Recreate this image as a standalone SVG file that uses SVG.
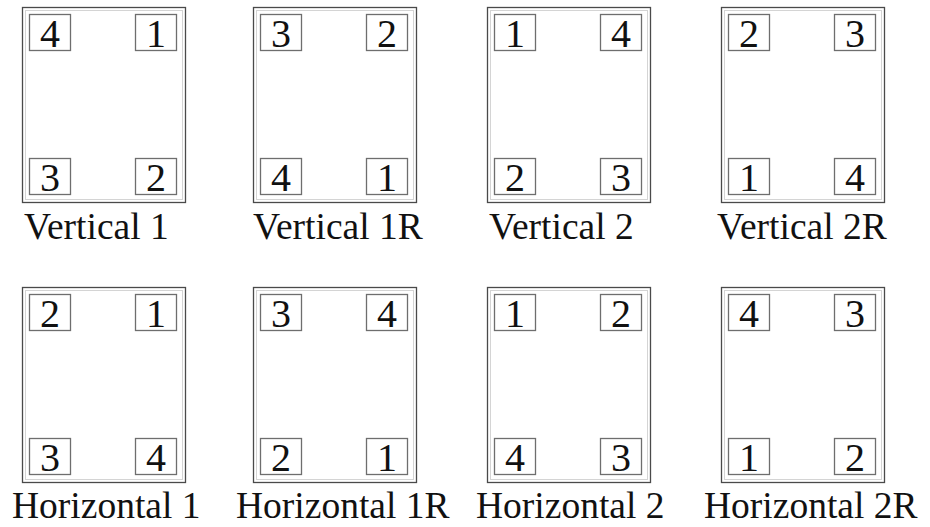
<svg xmlns="http://www.w3.org/2000/svg" xmlns:xlink="http://www.w3.org/1999/xlink" width="930" height="527" viewBox="0 0 930 527">
  <style>
    .outer { fill: #ffffff; stroke: #4a4a4a; stroke-width: 1.3; }
    .inner { fill: none; stroke: #d4d4d4; stroke-width: 1; }
    .pad { fill: #ffffff; stroke: #6e6e6e; stroke-width: 1.3; }
    .num { font-family: 'Liberation Serif', 'Times New Roman', serif; font-size: 40px; fill: #111; text-anchor: middle; }
    .label { font-family: 'Liberation Serif', 'Times New Roman', serif; font-size: 37.5px; fill: #111; }
  </style>
  <defs>
    <!-- panel frame with four corner pads, origin at outer top-left -->
    <g id="frame">
      <rect class="outer" x="0.5" y="0.5" width="163" height="195"/>
      <rect class="inner" x="3.5" y="3.5" width="157" height="189"/>
      <rect class="pad" x="7.5" y="7.5" width="41" height="36"/>
      <rect class="pad" x="113.5" y="7.5" width="41" height="36"/>
      <rect class="pad" x="7.5" y="151.5" width="41" height="36"/>
      <rect class="pad" x="113.5" y="151.5" width="41" height="36"/>
    </g>
  </defs>

  <!-- top row: vertical orientations -->
  <g id="vertical-1" transform="translate(22,7)">
    <use xlink:href="#frame" href="#frame"/>
    <text class="num" x="28" y="40">4</text>
    <text class="num" x="134" y="40">1</text>
    <text class="num" x="28" y="184">3</text>
    <text class="num" x="134" y="184">2</text>
    <text class="label" x="2" y="232">Vertical 1</text>
  </g>
  <g id="vertical-1r" transform="translate(253,7)">
    <use xlink:href="#frame" href="#frame"/>
    <text class="num" x="28" y="40">3</text>
    <text class="num" x="134" y="40">2</text>
    <text class="num" x="28" y="184">4</text>
    <text class="num" x="134" y="184">1</text>
    <text class="label" x="0" y="232">Vertical 1R</text>
  </g>
  <g id="vertical-2" transform="translate(487,7)">
    <use xlink:href="#frame" href="#frame"/>
    <text class="num" x="28" y="40">1</text>
    <text class="num" x="134" y="40">4</text>
    <text class="num" x="28" y="184">2</text>
    <text class="num" x="134" y="184">3</text>
    <text class="label" x="2" y="232">Vertical 2</text>
  </g>
  <g id="vertical-2r" transform="translate(721,7)">
    <use xlink:href="#frame" href="#frame"/>
    <text class="num" x="28" y="40">2</text>
    <text class="num" x="134" y="40">3</text>
    <text class="num" x="28" y="184">1</text>
    <text class="num" x="134" y="184">4</text>
    <text class="label" x="-4" y="232">Vertical 2R</text>
  </g>

  <!-- bottom row: horizontal orientations -->
  <g id="horizontal-1" transform="translate(22,287)">
    <use xlink:href="#frame" href="#frame"/>
    <text class="num" x="28" y="40">2</text>
    <text class="num" x="134" y="40">1</text>
    <text class="num" x="28" y="184">3</text>
    <text class="num" x="134" y="184">4</text>
    <text class="label" x="-10" y="231">Horizontal 1</text>
  </g>
  <g id="horizontal-1r" transform="translate(253,287)">
    <use xlink:href="#frame" href="#frame"/>
    <text class="num" x="28" y="40">3</text>
    <text class="num" x="134" y="40">4</text>
    <text class="num" x="28" y="184">2</text>
    <text class="num" x="134" y="184">1</text>
    <text class="label" x="-17" y="231">Horizontal 1R</text>
  </g>
  <g id="horizontal-2" transform="translate(487,287)">
    <use xlink:href="#frame" href="#frame"/>
    <text class="num" x="28" y="40">1</text>
    <text class="num" x="134" y="40">2</text>
    <text class="num" x="28" y="184">4</text>
    <text class="num" x="134" y="184">3</text>
    <text class="label" x="-11" y="231">Horizontal 2</text>
  </g>
  <g id="horizontal-2r" transform="translate(721,287)">
    <use xlink:href="#frame" href="#frame"/>
    <text class="num" x="28" y="40">4</text>
    <text class="num" x="134" y="40">3</text>
    <text class="num" x="28" y="184">1</text>
    <text class="num" x="134" y="184">2</text>
    <text class="label" x="-17" y="231">Horizontal 2R</text>
  </g>
</svg>
